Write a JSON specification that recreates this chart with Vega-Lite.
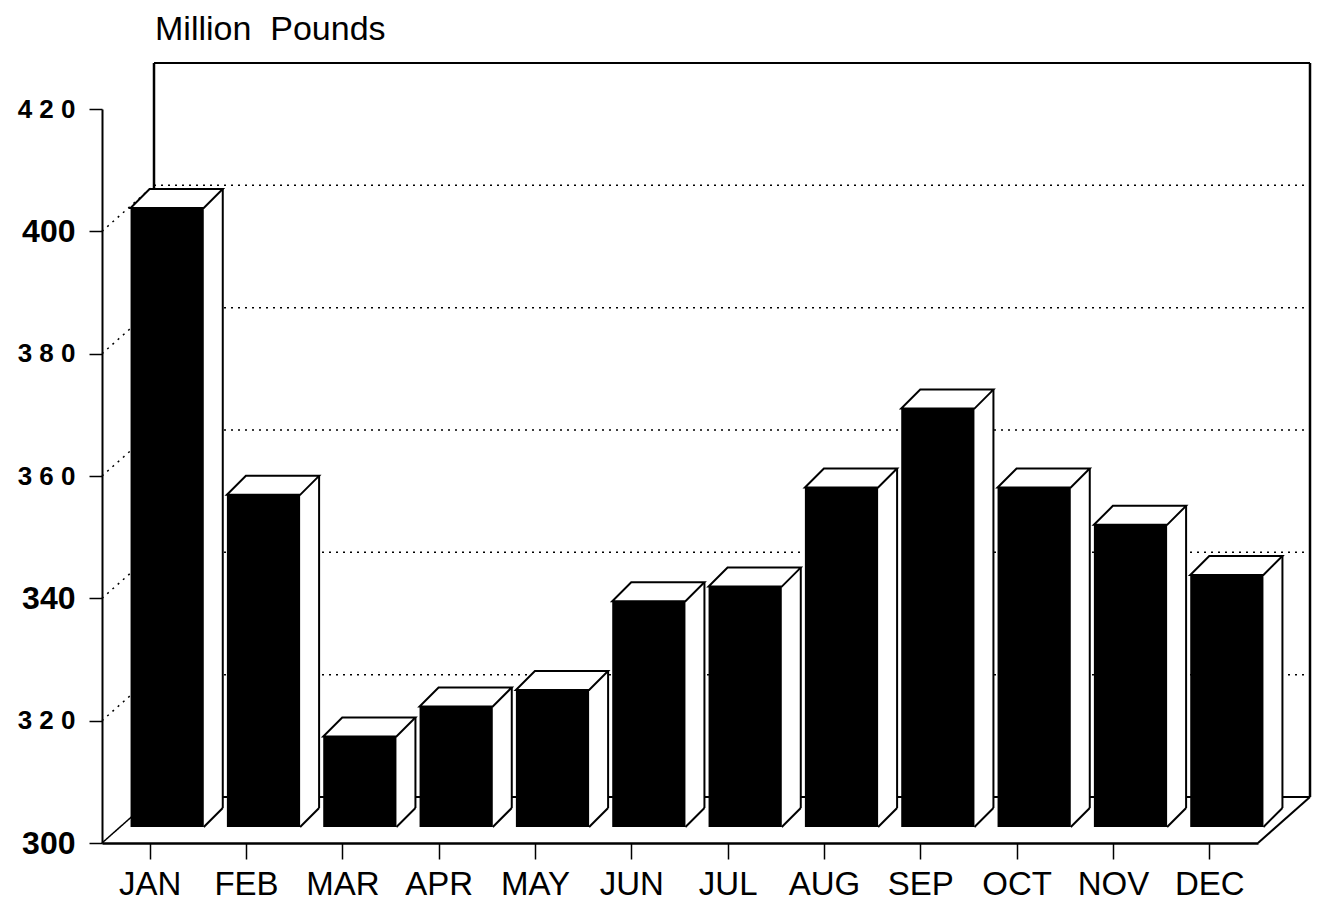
{
  "$schema": "https://vega.github.io/schema/vega-lite/v6.json",
  "autosize": {"type": "none"},
  "width": 1156,
  "height": 734,
  "padding": {"left": 102, "top": 109, "right": 60, "bottom": 66},
  "background": "white",
  "title": {
    "text": "Million\u00a0\u00a0Pounds",
    "anchor": "start",
    "frame": "group",
    "font": "Liberation Sans",
    "fontSize": 34,
    "fontWeight": "normal",
    "color": "black",
    "dx": 53,
    "offset": 15
  },
  "config": {"view": {"stroke": null}},
  "datasets": {
    "grid": [{"v": 320}, {"v": 340}, {"v": 360}, {"v": 380}, {"v": 400}],
    "diag": [{"v": 300}, {"v": 320}, {"v": 340}, {"v": 360}, {"v": 380}, {"v": 400}],
    "edges": [{"v": 300}, {"v": 420}]
  },
  "data": {"values": [
    {"month": "JAN", "value": 401.2},
    {"month": "FEB", "value": 354.3},
    {"month": "MAR", "value": 314.8},
    {"month": "APR", "value": 319.7},
    {"month": "MAY", "value": 322.4},
    {"month": "JUN", "value": 336.9},
    {"month": "JUL", "value": 339.3},
    {"month": "AUG", "value": 355.5},
    {"month": "SEP", "value": 368.4},
    {"month": "OCT", "value": 355.5},
    {"month": "NOV", "value": 349.4},
    {"month": "DEC", "value": 341.2}
  ]},
  "encoding": {
    "x": {
      "field": "month", "type": "nominal", "sort": null,
      "scale": {"domain": ["JAN","FEB","MAR","APR","MAY","JUN","JUL","AUG","SEP","OCT","NOV","DEC"], "paddingInner": 0, "paddingOuter": 0},
      "axis": {
        "title": null, "labelAngle": 0, "labelFont": "Liberation Sans", "labelFontSize": 33,
        "labelColor": "black", "labelPadding": 9, "tickSize": 16, "tickWidth": 1.5, "tickColor": "black",
        "domainColor": "black", "domainWidth": 2.5, "grid": false
      }
    }
  },
  "layer": [
    {
      "data": {"name": "grid"},
      "mark": {"type": "rule", "color": "black", "strokeWidth": 1.5, "strokeDash": [2, 5], "xOffset": 52, "x2Offset": 52, "yOffset": -46},
      "encoding": {
        "x": {"datum": "JAN", "bandPosition": 0},
        "x2": {"datum": "DEC", "bandPosition": 1},
        "y": {"field": "v", "type": "quantitative", "scale": {"domain": [300, 420], "zero": false, "nice": false},
        "axis": {"title": null, "values": [300, 320, 340, 360, 380, 400, 420], "grid": false,
          "domainColor": "black", "domainWidth": 2, "tickColor": "black", "tickWidth": 1.5, "tickSize": 13,
          "labelPadding": 14, "labelFont": "Liberation Sans", "labelFontWeight": "bold", "labelColor": "black",
          "labelFontSize": {"condition": {"test": "datum.value == 400 || datum.value == 340 || datum.value == 300", "value": 32}, "value": 26},
          "labelExpr": "(datum.value == 400 || datum.value == 340 || datum.value == 300) ? datum.label : slice(datum.label,0,1) + ' ' + slice(datum.label,1,2) + ' ' + slice(datum.label,2)"}}}
    },
    {
      "data": {"name": "edges"},
      "mark": {"type": "rule", "color": "black", "strokeWidth": 2, "xOffset": 52, "x2Offset": 52, "yOffset": -46},
      "encoding": {
        "x": {"datum": "JAN", "bandPosition": 0},
        "x2": {"datum": "DEC", "bandPosition": 1},
        "y": {"field": "v", "type": "quantitative"}
      }
    },
    {
      "data": {"values": [{"m": "JAN"}]},
      "mark": {"type": "rule", "color": "black", "strokeWidth": 2.5, "xOffset": 52, "yOffset": -46, "y2Offset": -46},
      "encoding": {"x": {"datum": "JAN", "bandPosition": 0}, "y": {"datum": 420}, "y2": {"datum": 300}}
    },
    {
      "data": {"values": [{"m": "DEC"}]},
      "mark": {"type": "rule", "color": "black", "strokeWidth": 2.5, "xOffset": 52, "yOffset": -46, "y2Offset": -46},
      "encoding": {"x": {"datum": "DEC", "bandPosition": 1}, "y": {"datum": 420}, "y2": {"datum": 300}}
    },
    {
      "data": {"values": [{"m": "DEC"}]},
      "mark": {"type": "rule", "color": "black", "strokeWidth": 2, "x2Offset": 52, "y2Offset": -46},
      "encoding": {"x": {"datum": "DEC", "bandPosition": 1}, "x2": {"datum": "DEC", "bandPosition": 1}, "y": {"datum": 300}, "y2": {"datum": 300}}
    },
    {
      "data": {"name": "diag"},
      "mark": {"type": "rule", "color": "black", "strokeWidth": 1.5, "x2Offset": 52, "y2Offset": -46},
      "encoding": {
        "x": {"datum": "JAN", "bandPosition": 0}, "x2": {"datum": "JAN", "bandPosition": 0},
        "y": {"field": "v", "type": "quantitative"}, "y2": {"field": "v"},
        "strokeDash": {"condition": {"test": "datum.v == 300", "value": [1, 0]}, "value": [2, 5]}
      }
    },
    {
      "mark": {"type": "bar", "fill": "white", "width": {"band": 0.76}, "xOffset": 36, "yOffset": -35, "y2Offset": -35},
      "encoding": {"y": {"field": "value", "type": "quantitative"}, "y2": {"datum": 300}}
    },
    {
      "mark": {"type": "rule", "color": "black", "strokeWidth": 2, "xOffset": 72.6, "yOffset": -35, "y2Offset": -35},
      "encoding": {"y": {"field": "value", "type": "quantitative"}, "y2": {"datum": 300}}
    },
    {
      "mark": {"type": "bar", "fill": "black", "width": {"band": 0.76}, "xOffset": 17, "yOffset": -16, "y2Offset": -16},
      "encoding": {"y": {"field": "value", "type": "quantitative"}, "y2": {"datum": 300}}
    },
    {
      "mark": {"type": "point", "shape": "M-36.6,0L36.6,0L55.6,-19L-17.6,-19Z", "size": 4, "filled": true, "fill": "white", "stroke": "black", "strokeWidth": 2, "opacity": 1, "xOffset": 17, "yOffset": -16},
      "encoding": {"y": {"field": "value", "type": "quantitative"}}
    },
    {
      "mark": {"type": "point", "shape": "M36.6,0L55.6,-19", "size": 4, "filled": false, "stroke": "black", "strokeWidth": 2, "opacity": 1, "xOffset": 17, "yOffset": -16},
      "encoding": {"y": {"datum": 300}}
    }
  ]
}
